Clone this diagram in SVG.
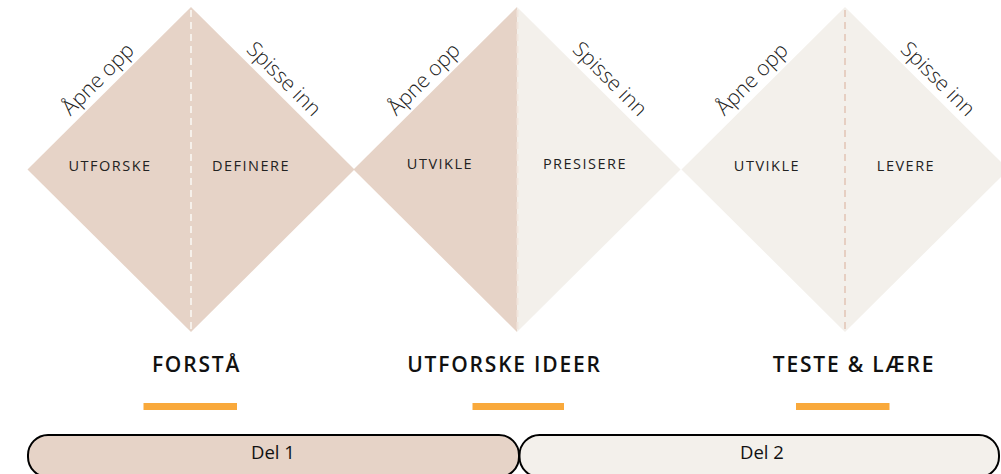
<svg xmlns="http://www.w3.org/2000/svg" width="1001" height="474" viewBox="0 0 1001 474">
<style>
.dark{fill:#e6d3c7}
.light{fill:#f3f0eb}
.edge{font-family:"Open Sans","Noto Sans",sans-serif;font-weight:300;font-size:21px;fill:#222;text-anchor:middle}
.lbl{font-family:"Open Sans","Noto Sans",sans-serif;font-size:14.5px;letter-spacing:1.5px;fill:#222;text-anchor:middle}
.title{font-family:"Open Sans","Noto Sans",sans-serif;font-weight:600;font-size:21px;letter-spacing:1.8px;fill:#111;text-anchor:middle}
.bar{fill:#f9a93b}
.pill{stroke:#000;stroke-width:2}
.del{font-family:"Open Sans","Noto Sans",sans-serif;font-size:18.5px;fill:#111;text-anchor:middle}
.dash{stroke-width:2;stroke-dasharray:7 5;fill:none}
</style>
<rect width="1001" height="474" fill="#fff"/>
<g id="diamond1">
<polygon class="dark" points="191,7 354.5,169.5 191,332 27.5,169.5"/>
<line class="dash" x1="191" y1="10" x2="191" y2="330" stroke="#f6f0ea"/>
<text class="edge" transform="translate(103,84) rotate(-45)">Åpne opp</text>
<text class="edge" transform="translate(279,84) rotate(45)">Spisse inn</text>
<text class="lbl" x="110" y="171">UTFORSKE</text>
<text class="lbl" x="251" y="171">DEFINERE</text>
</g>
<g id="diamond2">
<polygon class="dark" points="517,7 517,332 353.5,169.5"/>
<polygon class="light" points="517,7 680.5,169.5 517,332"/>
<line class="dash" x1="517.5" y1="10" x2="517.5" y2="330" stroke="#f1e6de"/>
<text class="edge" transform="translate(429,84) rotate(-45)">Åpne opp</text>
<text class="edge" transform="translate(605,84) rotate(45)">Spisse inn</text>
<text class="lbl" x="440" y="169">UTVIKLE</text>
<text class="lbl" x="585" y="169">PRESISERE</text>
</g>
<g id="diamond3">
<polygon class="light" points="845,7 1008.5,169.5 845,332 681.5,169.5"/>
<line class="dash" x1="845" y1="10" x2="845" y2="330" stroke="#e6cfc2"/>
<text class="edge" transform="translate(757,84) rotate(-45)">Åpne opp</text>
<text class="edge" transform="translate(933,84) rotate(45)">Spisse inn</text>
<text class="lbl" x="767" y="171">UTVIKLE</text>
<text class="lbl" x="906" y="171">LEVERE</text>
</g>
<g id="phase1">
<text class="title" x="196.5" y="372">FORSTÅ</text>
<rect class="bar" x="143.5" y="403" width="93.5" height="7"/>
</g>
<g id="phase2">
<text class="title" x="504.5" y="372">UTFORSKE IDEER</text>
<rect class="bar" x="472.5" y="403" width="91.5" height="7"/>
</g>
<g id="phase3">
<text class="title" x="854" y="372">TESTE &amp; LÆRE</text>
<rect class="bar" x="796" y="403" width="93.5" height="7"/>
</g>
<g id="del1">
<rect class="pill dark" x="28" y="435" width="491" height="42" rx="20" ry="20"/>
<text class="del" x="273" y="459">Del 1</text>
</g>
<g id="del2">
<rect class="pill light" x="519.5" y="435" width="479.5" height="42" rx="20" ry="20"/>
<text class="del" x="762" y="459">Del 2</text>
</g>
<g id="connectors"></g>
</svg>
